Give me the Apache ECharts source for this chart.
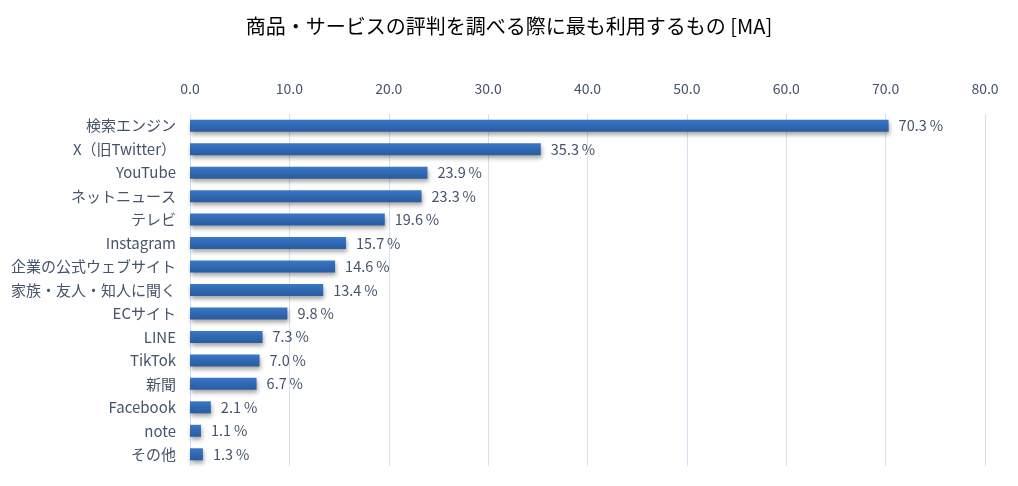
<!DOCTYPE html>
<html>
<head>
<meta charset="utf-8">
<script src="https://cdn.jsdelivr.net/npm/echarts@6/dist/echarts.min.js"></script>
<style>
  html, body { margin: 0; padding: 0; background: #fff; }
  #chart { width: 1018px; height: 486px; }
</style>
</head>
<body>
<div id="chart"></div>
<script>
// 項目（上から順）
var categories = ['検索エンジン', 'X（旧Twitter）', 'YouTube', 'ネットニュース', 'テレビ', 'Instagram',
  '企業の公式ウェブサイト', '家族・友人・知人に聞く', 'ECサイト', 'LINE', 'TikTok', '新聞', 'Facebook', 'note', 'その他'];
// 割合 (%)
var values = [70.3, 35.3, 23.9, 23.3, 19.6, 15.7, 14.6, 13.4, 9.8, 7.3, 7.0, 6.7, 2.1, 1.1, 1.3];

var fontFam = '"Noto Sans CJK JP", "Noto Sans", sans-serif';
var textCol = '#44546A';

var myChart = echarts.init(document.getElementById('chart'));

myChart.setOption({
  animation: false,
  title: {
    text: '商品・サービスの評判を調べる際に最も利用するもの [MA]',
    left: 'center',
    top: 11,
    textStyle: { fontFamily: fontFam, fontSize: 20, fontWeight: 'normal', color: '#000' }
  },
  grid: { left: 190, right: 33, top: 114, bottom: 20 },
  xAxis: {
    type: 'value',
    position: 'top',
    min: 0,
    max: 80,
    interval: 10,
    axisLine: { show: false },
    axisTick: { show: false },
    axisLabel: {
      margin: 18,
      color: textCol,
      fontFamily: fontFam,
      fontSize: 14,
      formatter: function (v) { return v.toFixed(1); }
    },
    splitLine: { lineStyle: { color: '#D6E0EE', width: 1 } }
  },
  yAxis: {
    type: 'category',
    inverse: true,
    data: categories,
    axisLine: { show: false },
    axisTick: { show: false },
    axisLabel: { margin: 14, color: textCol, fontFamily: fontFam, fontSize: 15 }
  },
  series: [{
    type: 'bar',
    data: values,
    barWidth: 12,
    itemStyle: {
      color: new echarts.graphic.LinearGradient(0, 0, 0, 1, [
        { offset: 0, color: '#3A78C6' },
        { offset: 0.5, color: '#2F68B3' },
        { offset: 1, color: '#2A5C9E' }
      ]),
      shadowColor: 'rgba(0,0,0,0.35)',
      shadowBlur: 4,
      shadowOffsetX: 1,
      shadowOffsetY: 3
    },
    label: {
      show: true,
      position: 'right',
      distance: 10,
      color: textCol,
      fontFamily: fontFam,
      fontSize: 14.5,
      formatter: function (p) { return p.value.toFixed(1) + '\u2009%'; }
    }
  }]
});
</script>
</body>
</html>
